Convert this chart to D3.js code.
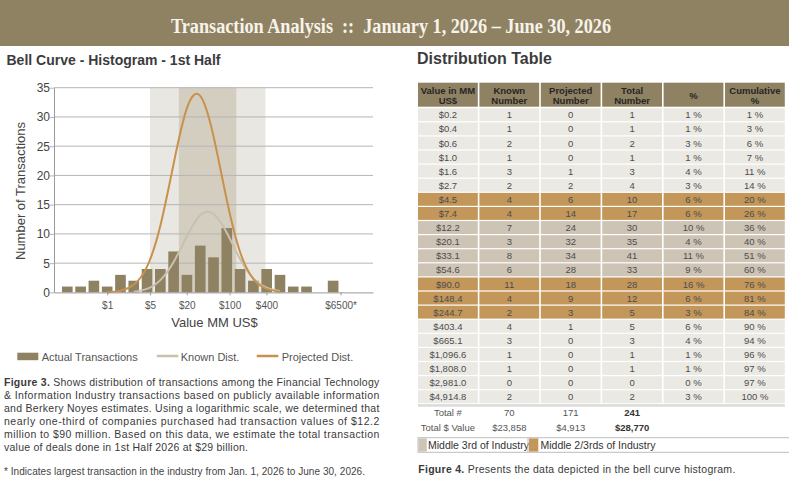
<!DOCTYPE html>
<html>
<head>
<meta charset="utf-8">
<script src="https://cdn.jsdelivr.net/npm/d3@7"></script>
<style>
  body { margin: 0; background: #fff; }
  svg { display: block; font-family: "Liberation Sans", Arial, sans-serif; }
</style>
</head>
<body>
<div id="chart"></div>
<script>
// ---- data ----
const binLabels = ["$0.2", "$0.4", "$0.6", "$1.0", "$1.6", "$2.7", "$4.5", "$7.4", "$12.2", "$20.1",
  "$33.1", "$54.6", "$90.0", "$148.4", "$244.7", "$403.4", "$665.1", "$1,096.6", "$1,808.0", "$2,981.0", "$4,914.8"];
const binCenters = [0.223, 0.368, 0.607, 1.0, 1.649, 2.718, 4.482, 7.389, 12.18, 20.09,
  33.12, 54.6, 90.02, 148.4, 244.7, 403.4, 665.1, 1096.6, 1808.0, 2981.0, 4914.8];
const knownCounts = [1, 1, 2, 1, 3, 2, 4, 4, 7, 3, 8, 6, 11, 4, 2, 4, 3, 1, 1, 0, 2];
const projectedCounts = [0, 0, 0, 0, 1, 2, 6, 14, 24, 32, 34, 28, 18, 9, 3, 1, 0, 0, 0, 0, 0];
const totalCounts = [1, 1, 2, 1, 3, 4, 10, 17, 30, 35, 41, 33, 28, 12, 5, 5, 3, 1, 1, 0, 2];
const pctShare = [1, 1, 3, 1, 4, 3, 6, 6, 10, 4, 11, 9, 16, 6, 3, 6, 4, 1, 1, 0, 3];
const cumShare = [1, 3, 6, 7, 11, 14, 20, 26, 36, 40, 51, 60, 76, 81, 84, 90, 94, 96, 97, 97, 100];
// 0 = outside, 1 = middle 3rd, 2 = middle 2/3rds
const rowGroup = [0, 0, 0, 0, 0, 0, 2, 2, 1, 1, 1, 1, 2, 2, 2, 0, 0, 0, 0, 0, 0];

// curve heights read at each bin centre (null = not drawn)
const knownDist = [null, null, null, null, null, 0.1, 0.6, 2.1, 5.2, 9.6, 13.2, 13.4, 10.2, 5.7, 2.4, 0.8, 0.2, null, null, null, null];
const projectedDist = [null, null, null, 0.0, 0.3, 1.3, 4.4, 11.4, 22.0, 31.5, 33.6, 26.7, 15.8, 6.9, 2.3, 0.6, 0.1, null, null, null, null];

const middleThird = [14.8, 129];
const middleTwoThirds = [5, 385];

const xDomain = [0.1353, 22026];
const xTickValues = [1, 5, 20, 100, 400, 6500];
const xTickLabels = ["$1", "$5", "$20", "$100", "$400", "$6500*"];
const yTicks = [0, 5, 10, 15, 20, 25, 30, 35];

const totalsCount = [70, 171, 241];
const totalsValue = [23858, 4913, 28770];

const tableHeads = [["Value in MM", "US$"], ["Known", "Number"], ["Projected", "Number"], ["Total", "Number"], ["%"], ["Cumulative", "%"]];

const headerTitle = "Transaction Analysis  ::  January 1, 2026 \u2013 June 30, 2026";
const captionLead = "Figure 3.";
const captionLines = [
  " Shows distribution of transactions among the Financial Technology",
  "& Information Industry transactions based on publicly available information",
  "and Berkery Noyes estimates. Using a logarithmic scale, we determined that",
  "nearly one-third of companies purchased had transaction values of $12.2",
  "million to $90 million. Based on this data, we estimate the total transaction",
  "value of deals done in 1st Half 2026 at $29 billion."
];
const footnote = "* Indicates largest transaction in the industry from Jan. 1, 2026 to June 30, 2026.";

// ---- colours ----
const brown = "#8f8263";
const orange = "#c8914c";
const knownColor = "#c9c0af";
const rowFill = ["#ebe9e4", "#cdc4b5", "#c39659"];

const W = 789, H = 478;
const svg = d3.select("#chart").append("svg").attr("width", W).attr("height", H);

// stretch / squeeze a text node to a given width
function fitWidth(sel, target) {
  const len = sel.node().getComputedTextLength();
  sel.attr("textLength", target).attr("lengthAdjust", len > target ? "spacingAndGlyphs" : "spacing");
}

// header band
svg.append("rect").attr("width", W).attr("height", 46).attr("fill", brown);
const head = svg.append("text")
  .attr("x", 391).attr("y", 33)
  .attr("text-anchor", "middle")
  .attr("font-family", '"Liberation Serif", "Times New Roman", serif')
  .attr("font-weight", "bold")
  .attr("font-size", 20)
  .attr("fill", "#f7f3ea")
  .attr("xml:space", "preserve")
  .style("white-space", "pre")
  .text(headerTitle);
fitWidth(head, 440);

// section titles
svg.append("text").attr("x", 6.5).attr("y", 65)
  .attr("font-size", 14).attr("font-weight", "bold").attr("fill", "#3c3c3c")
  .text("Bell Curve - Histogram - 1st Half");
svg.append("text").attr("x", 417).attr("y", 64)
  .attr("font-size", 16).attr("font-weight", "bold").attr("fill", "#3c3c3c")
  .text("Distribution Table");

// ---- histogram ----
const x = d3.scaleLog().domain(xDomain).range([54, 373]);
const y = d3.scaleLinear().domain([0, 35]).range([292.4, 87.7]);

const plot = svg.append("g");

plot.append("rect")
  .attr("x", x(middleTwoThirds[0])).attr("width", x(middleTwoThirds[1]) - x(middleTwoThirds[0]))
  .attr("y", y(35)).attr("height", y(0) - y(35))
  .attr("fill", "#e9e7e1");
plot.append("rect")
  .attr("x", x(middleThird[0])).attr("width", x(middleThird[1]) - x(middleThird[0]))
  .attr("y", y(35)).attr("height", y(0) - y(35))
  .attr("fill", "#d4cec1");

plot.append("g").selectAll("line").data(yTicks.slice(1)).join("line")
  .attr("x1", 54).attr("x2", 373)
  .attr("y1", d => y(d)).attr("y2", d => y(d))
  .attr("stroke", "#b5b5b5");

const step = x(binCenters[1]) - x(binCenters[0]);
const bw = step * 0.8;
plot.append("g").selectAll("rect")
  .data(binCenters.map((c, i) => ({ c, v: knownCounts[i] })).filter(d => d.v > 0))
  .join("rect")
  .attr("x", d => x(d.c) - bw / 2)
  .attr("width", bw)
  .attr("y", d => y(d.v))
  .attr("height", d => y(0) - y(d.v))
  .attr("fill", brown);

const line = d3.line()
  .defined(d => d.v != null)
  .x(d => x(d.c))
  .y(d => y(d.v))
  .curve(d3.curveNatural);

plot.append("path")
  .datum(binCenters.map((c, i) => ({ c, v: knownDist[i] })))
  .attr("d", line).attr("fill", "none").attr("stroke", knownColor).attr("stroke-width", 2);
plot.append("path")
  .datum(binCenters.map((c, i) => ({ c, v: projectedDist[i] })))
  .attr("d", line).attr("fill", "none").attr("stroke", orange).attr("stroke-width", 2);

// axes
const yAxis = svg.append("g").attr("transform", "translate(54,0)")
  .call(d3.axisLeft(y).tickValues(yTicks).tickSize(4).tickPadding(0).tickSizeOuter(0));
yAxis.select(".domain").attr("stroke", "#9a9a9a");
yAxis.selectAll(".tick line").attr("stroke", "#b5b5b5");
yAxis.selectAll(".tick text").attr("font-size", 12).attr("fill", "#444")
  .attr("font-family", '"Liberation Sans", Arial, sans-serif');

const xAxis = svg.append("g").attr("transform", `translate(0,${y(0)})`)
  .call(d3.axisBottom(x).tickValues(xTickValues).tickFormat((d, i) => xTickLabels[i])
    .tickSize(3).tickPadding(7).tickSizeOuter(0));
xAxis.select(".domain").attr("stroke", "#9a9a9a");
xAxis.selectAll(".tick line").attr("stroke", "#9a9a9a");
xAxis.selectAll(".tick text").attr("font-size", 10).attr("fill", "#555")
  .attr("font-family", '"Liberation Sans", Arial, sans-serif');

svg.append("text")
  .attr("transform", "translate(25,191) rotate(-90)")
  .attr("text-anchor", "middle").attr("font-size", 13).attr("fill", "#444")
  .text("Number of Transactions");
svg.append("text")
  .attr("x", 214.5).attr("y", 327)
  .attr("text-anchor", "middle").attr("font-size", 13).attr("fill", "#444")
  .text("Value MM US$");

// legend
const lg = svg.append("g").attr("font-size", 11).attr("fill", "#555");
lg.append("rect").attr("x", 17.3).attr("y", 352.7).attr("width", 21).attr("height", 7.5).attr("fill", brown);
lg.append("text").attr("x", 41.7).attr("y", 360.5).text("Actual Transactions");
lg.append("line").attr("x1", 156.7).attr("x2", 178.3).attr("y1", 356).attr("y2", 356)
  .attr("stroke", knownColor).attr("stroke-width", 2.5);
lg.append("text").attr("x", 180.7).attr("y", 360.5).text("Known Dist.");
lg.append("line").attr("x1", 256.7).attr("x2", 278.3).attr("y1", 356).attr("y2", 356)
  .attr("stroke", orange).attr("stroke-width", 2.5);
lg.append("text").attr("x", 281.7).attr("y", 360.5).text("Projected Dist.");

// caption
const cap = svg.append("g").attr("font-size", 10.5).attr("fill", "#3a3a3a");
captionLines.forEach((txt, i) => {
  const t = cap.append("text").attr("x", 4).attr("y", 386 + i * 13)
    .attr("xml:space", "preserve").style("white-space", "pre");
  if (i === 0) t.append("tspan").attr("font-weight", "bold").text(captionLead);
  t.append("tspan").text(txt);
  if (i < captionLines.length - 1) fitWidth(t, 375.3);
  else fitWidth(t, 244);
});
const fn = svg.append("text").attr("x", 4).attr("y", 474.5)
  .attr("font-size", 10).attr("fill", "#444").text(footnote);
fitWidth(fn, 361);

// ---- distribution table ----
const tableX = 418, colW = 59.8, colGap = 1.6;
const colLeft = i => tableX + i * (colW + colGap);
const colMid = i => colLeft(i) + colW / 2;
const headTop = 82.7, headH = 24, rowTop0 = 108.3, rowPitch = 14.1, rowH = 12.9;

const tbl = svg.append("g");
tableHeads.forEach((lines, i) => {
  tbl.append("rect").attr("x", colLeft(i)).attr("y", headTop)
    .attr("width", colW).attr("height", headH).attr("fill", brown);
  const t = tbl.append("text").attr("text-anchor", "middle")
    .attr("font-size", 9.5).attr("font-weight", "bold").attr("fill", "#262626");
  const base = lines.length === 2 ? [93.6, 104] : [99];
  lines.forEach((s, k) => t.append("tspan").attr("x", colMid(i)).attr("y", base[k]).text(s));
});

binLabels.forEach((lab, r) => {
  const top = rowTop0 + r * rowPitch;
  const cells = [lab, knownCounts[r], projectedCounts[r], totalCounts[r], pctShare[r] + " %", cumShare[r] + " %"];
  cells.forEach((v, c) => {
    tbl.append("rect").attr("x", colLeft(c)).attr("y", top)
      .attr("width", colW).attr("height", rowH).attr("fill", rowFill[rowGroup[r]]);
    tbl.append("text").attr("x", colMid(c)).attr("y", top + 10)
      .attr("text-anchor", "middle").attr("font-size", 9.5).attr("fill", "#4d4d4d")
      .text(v);
  });
});

const lastBottom = rowTop0 + (binLabels.length - 1) * rowPitch + rowH;
tbl.append("rect").attr("x", tableX).attr("y", lastBottom + 1)
  .attr("width", colLeft(5) + colW - tableX).attr("height", 2.5).attr("fill", "#dadada");

const fmtMoney = d3.format("$,");
const totRows = [
  { label: "Total #", vals: totalsCount.map(String), y: 415.7 },
  { label: "Total $ Value", vals: totalsValue.map(fmtMoney), y: 431 }
];
totRows.forEach(row => {
  [row.label].concat(row.vals).forEach((s, c) => {
    tbl.append("text").attr("x", colMid(c)).attr("y", row.y)
      .attr("text-anchor", "middle").attr("font-size", 9.5).attr("fill", c === 3 ? "#333" : "#555")
      .attr("font-weight", c === 3 ? "bold" : "normal")
      .text(s);
  });
});

// table legend strip
const strip = svg.append("g").attr("font-size", 10.5).attr("fill", "#333");
strip.append("rect").attr("x", 418).attr("y", 437.7).attr("width", 372).attr("height", 14.6)
  .attr("fill", "#fff").attr("stroke", "#bdbdbd");
strip.append("rect").attr("x", 418.5).attr("y", 438.4).attr("width", 8.3).attr("height", 13.2).attr("fill", rowFill[1]);
strip.append("text").attr("x", 428).attr("y", 449).text("Middle 3rd of Industry");
strip.append("line").attr("x1", 528).attr("x2", 528).attr("y1", 437.7).attr("y2", 452.3).attr("stroke", "#bdbdbd");
strip.append("rect").attr("x", 529).attr("y", 438.4).attr("width", 9.3).attr("height", 13.2).attr("fill", rowFill[2]);
strip.append("text").attr("x", 540.5).attr("y", 449).text("Middle 2/3rds of Industry");

const cap4 = svg.append("text").attr("x", 418.3).attr("y", 473)
  .attr("font-size", 10.5).attr("fill", "#3a3a3a")
  .attr("xml:space", "preserve").style("white-space", "pre");
cap4.append("tspan").attr("font-weight", "bold").text("Figure 4.");
cap4.append("tspan").text(" Presents the data depicted in the bell curve histogram.");
fitWidth(cap4, 317);
</script>
</body>
</html>
